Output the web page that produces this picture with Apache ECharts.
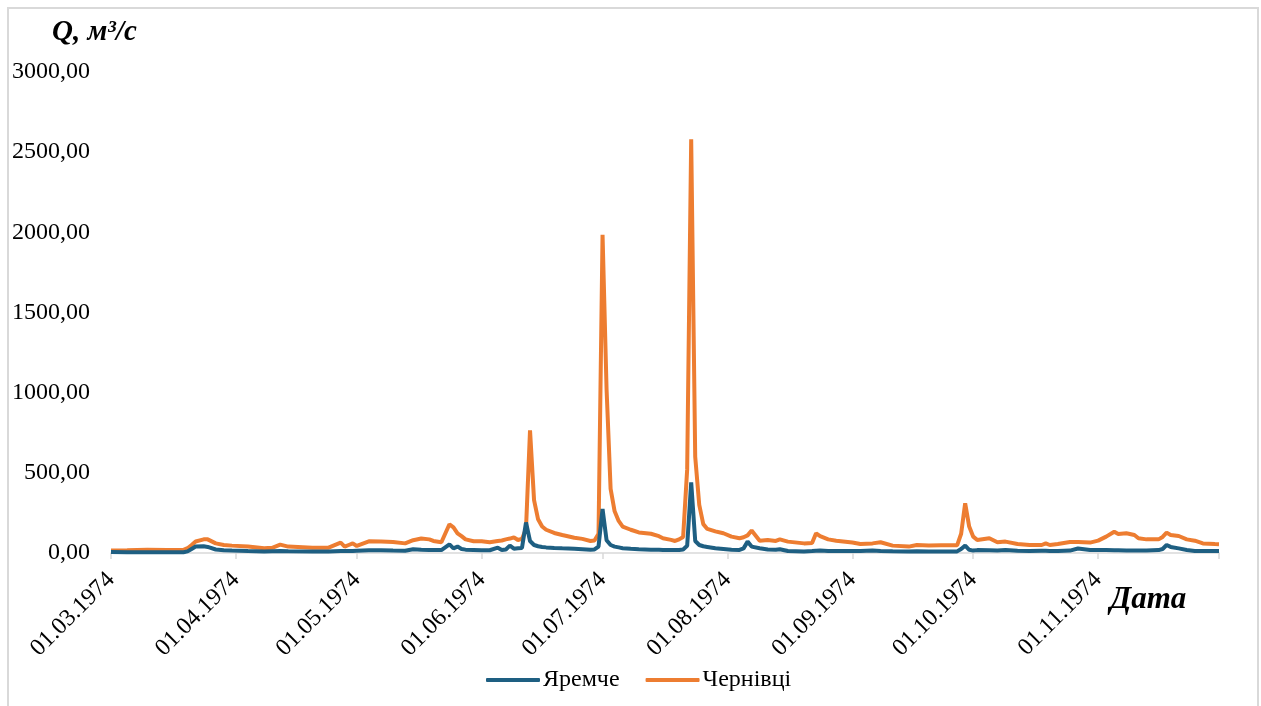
<!DOCTYPE html>
<html>
<head>
    <meta charset="UTF-8">
    <title>Q, м³/с — Яремче, Чернівці 1974</title>
    <style>
        * {
            margin: 0;
            padding: 0
        }

        body {
            width: 1261px;
            height: 706px;
            overflow: hidden;
            background: #fff;
            position: relative;
        }

        .frame {
            position: absolute;
            left: 7px;
            top: 7px;
            width: 1248px;
            height: 760px;
            border: 2px solid #d9d9d9;
        }

        .chart {
            position: absolute;
            left: 0;
            top: 0;
            width: 1261px;
            height: 706px;
        }
    </style>
</head>
<body>
<div class="frame"></div>
<div class="chart" id="chart"></div>
<script type="text/javascript" src="https://cdn.jsdelivr.net/npm/echarts@6/dist/echarts.min.js"></script>
<script type="text/javascript">
    // дати, що (дд.мм), 1974 рік
    var keyDates = [
        '01.03', '05.03', '10.03', '15.03', '19.03', '20.03', '21.03', '22.03', '24.03', '25.03', '27.03', '29.03', '31.03',
        '04.04', '08.04', '10.04', '12.04', '14.04', '20.04', '24.04', '27.04', '28.04', '29.04', '30.04',
        '01.05', '04.05', '07.05', '10.05', '13.05', '15.05', '17.05', '19.05', '20.05', '22.05', '24.05', '25.05', '26.05', '27.05', '28.05', '30.05',
        '01.06', '03.06', '05.06', '06.06', '07.06', '08.06', '09.06', '10.06', '11.06', '12.06', '13.06', '14.06', '15.06', '16.06', '17.06', '19.06', '21.06', '24.06', '26.06', '28.06', '29.06', '30.06',
        '01.07', '02.07', '03.07', '04.07', '05.07', '06.07', '08.07', '10.07', '13.07', '15.07', '16.07', '18.07', '19.07', '20.07', '21.07', '22.07', '23.07', '24.07', '25.07', '26.07', '27.07', '29.07', '31.07',
        '02.08', '04.08', '05.08', '06.08', '07.08', '09.08', '11.08', '13.08', '14.08', '16.08', '20.08', '22.08', '23.08', '24.08', '26.08', '28.08',
        '01.09', '03.09', '06.09', '08.09', '11.09', '15.09', '17.09', '20.09', '23.09', '27.09', '28.09', '29.09', '30.09',
        '01.10', '02.10', '05.10', '07.10', '09.10', '12.10', '15.10', '18.10', '19.10', '20.10', '22.10', '25.10', '27.10', '30.10',
        '01.11', '03.11', '05.11', '06.11', '08.11', '10.11', '11.11', '13.11', '16.11', '17.11', '18.11', '19.11', '21.11', '23.11', '25.11', '27.11', '30.11',
        '01.12'
    ];
    // Яремче, м3/с
    var yaremche = [
        6, 5, 4, 4, 5, 10, 25, 40, 42, 38, 22, 17, 15,
        12, 10, 11, 12, 11, 9, 10, 12, 12, 12, 13,
        14, 17, 17, 15, 14, 23, 20, 19, 19, 18, 54, 29, 40, 25, 21, 19,
        17, 17, 33, 19, 22, 46, 27, 29, 31, 190, 75, 50, 42, 38, 35, 31, 29, 27, 24, 21, 22, 40,
        275, 80, 50, 40, 35, 30, 26, 23, 21, 20, 19, 18, 18, 19, 22, 45, 440, 75, 50, 42, 38, 30, 25,
        20, 19, 29, 71, 40, 30, 22, 20, 23, 12, 10, 12, 14, 15, 13, 12,
        13, 12, 15, 12, 11, 10, 11, 10, 9, 10, 25, 46, 20,
        15, 18, 17, 16, 19, 14, 13, 14, 14, 13, 12, 15, 28, 19,
        19, 19, 17, 17, 16, 15, 15, 15, 18, 25, 50, 38, 29, 19, 13, 12, 12,
        12
    ];
    // Чернівці, м3/с
    var chernivtsi = [
        15, 17, 20, 18, 19, 30, 50, 72, 85, 85, 60, 50, 46,
        40, 30, 32, 52, 40, 33, 33, 65, 40, 50, 60,
        44, 73, 72, 68, 60, 80, 90, 85, 75, 67, 179, 160, 123, 105, 85, 73,
        73, 67, 75, 78, 85, 90, 98, 81, 88, 150, 765, 330, 210, 165, 145, 125, 112, 95, 88, 75, 78, 120,
        1985, 1020, 400, 260, 200, 165, 145, 128, 120, 105, 92, 82, 75, 85, 100, 520, 2580, 600, 300, 180, 150, 135, 123,
        102, 92, 98, 110, 140, 77, 81, 75, 85, 71, 60, 62, 123, 105, 85, 77,
        65, 56, 60, 67, 46, 40, 50, 47, 48, 48, 120, 310, 165,
        102, 81, 92, 67, 71, 56, 50, 50, 60, 50, 56, 69, 69, 65,
        77, 102, 133, 119, 123, 112, 92, 85, 85, 100, 127, 112, 106, 85, 77, 60, 56,
        55
    ];
    var yTicks = [0, 500, 1000, 1500, 2000, 2500, 3000];

    var FONT = '"Liberation Serif", "Times New Roman", serif';

    function pad(n) {
        return n < 10 ? '0' + n : '' + n;
    }

    // щоденна вісь з 01.03.1974 по 01.12.1974
    var days = [];
    var d = new Date(1974, 2, 1);
    while (d <= new Date(1974, 11, 1)) {
        days.push(pad(d.getDate()) + '.' + pad(d.getMonth() + 1) + '.1974');
        d.setDate(d.getDate() + 1);
    }

    function toDaily(values) {
        var out = days.map(function () {
            return null;
        });
        for (var i = 0; i < keyDates.length; i++) {
            var idx = days.indexOf(keyDates[i] + '.1974');
            out[idx] = values[i];
        }
        return out;
    }

    function isMonthStart(index, value) {
        return value.slice(0, 2) === '01';
    }

    var myChart = echarts.init(document.getElementById('chart'));
    var option = {
        animation: false,
        textStyle: {fontFamily: FONT},
        grid: {
            left: 111,
            right: 42,
            top: 72,
            bottom: 153
        },
        legend: {
            top: 663,
            left: 481,
            icon: 'roundRect',
            itemWidth: 54,
            itemHeight: 4,
            itemGap: 26,
            textStyle: {
                fontFamily: FONT,
                fontSize: 24,
                color: '#000',
                padding: [0, 0, 0, -2]
            },
            data: ['Яремче', 'Чернівці']
        },
        graphic: [
            {
                type: 'text',
                left: 52,
                top: 18,
                style: {
                    text: 'Q, м³/с',
                    font: 'italic bold 29px ' + FONT,
                    fill: '#000'
                }
            },
            {
                type: 'text',
                left: 1110,
                top: 584,
                style: {
                    text: 'Дата',
                    font: 'italic bold 31px ' + FONT,
                    fill: '#000'
                }
            }
        ],
        xAxis: {
            type: 'category',
            boundaryGap: false,
            data: days,
            axisLine: {
                lineStyle: {color: '#d9d9d9', width: 1.5}
            },
            axisTick: {
                show: true,
                length: 6,
                interval: isMonthStart,
                lineStyle: {color: '#d9d9d9', width: 1.5}
            },
            axisLabel: {
                interval: function (index, value) {
                    return isMonthStart(index, value) && value !== '01.12.1974';
                },
                rotate: 45,
                margin: 23,
                fontFamily: FONT,
                fontSize: 24,
                color: '#000'
            },
            splitLine: {show: false}
        },
        yAxis: {
            type: 'value',
            min: yTicks[0],
            max: yTicks[yTicks.length - 1],
            interval: 500,
            axisLine: {show: false},
            axisTick: {show: false},
            splitLine: {show: false},
            axisLabel: {
                margin: 21,
                fontFamily: FONT,
                fontSize: 24,
                color: '#000',
                formatter: function (v) {
                    return v.toFixed(2).replace('.', ',');
                }
            }
        },
        series: [
            {
                name: 'Яремче',
                type: 'line',
                data: toDaily(yaremche),
                connectNulls: true,
                symbol: 'none',
                color: '#1e5f82',
                lineStyle: {width: 4, color: '#1e5f82'},
                z: 3
            },
            {
                name: 'Чернівці',
                type: 'line',
                data: toDaily(chernivtsi),
                connectNulls: true,
                symbol: 'none',
                color: '#ed7d31',
                lineStyle: {width: 4, color: '#ed7d31'},
                z: 2
            }
        ]
    };
    myChart.setOption(option);
</script>
</body>
</html>
